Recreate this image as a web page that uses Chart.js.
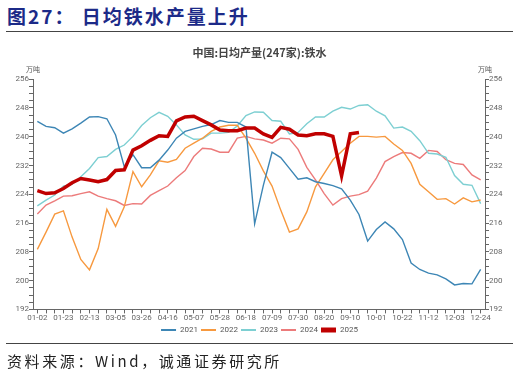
<!DOCTYPE html>
<html>
<head>
<meta charset="utf-8">
<script src="https://cdn.jsdelivr.net/npm/chart.js@4.4.1/dist/chart.umd.min.js"></script>
<style>
  body { margin: 0; width: 519px; height: 374px; background: #fff; position: relative; overflow: hidden; }
  .head { position: absolute; left: 7px; top: 2px; font-family: "Noto Sans CJK SC", sans-serif; font-weight: bold; font-size: 19px; color: #1c2a88; letter-spacing: 2px; white-space: pre; }
  .rule { position: absolute; left: 6px; width: 507px; height: 0; border-top: 1.5px solid #444; }
  .foot { position: absolute; left: 7px; top: 350px; font-family: "Noto Sans CJK SC", serif; font-size: 15px; color: #222; letter-spacing: 2.6px; white-space: pre; }
  .wrap { position: absolute; left: 0; top: 40px; width: 519px; height: 304px; }
</style>
</head>
<body>
<div class="head">图27： 日均铁水产量上升</div>
<div class="rule" style="top:31px"></div>
<div class="wrap"><canvas id="ironChart"></canvas></div>
<div class="rule" style="top:343px"></div>
<div class="foot">资料来源：Wind，诚通证券研究所</div>
<script>
const weeks = [
  '01-02','01-09','01-16','01-23','01-30','02-06','02-13','02-20','02-27','03-05',
  '03-12','03-19','03-26','04-02','04-09','04-16','04-23','04-30','05-07','05-14',
  '05-21','05-28','06-04','06-11','06-18','06-25','07-02','07-09','07-16','07-23',
  '07-30','08-06','08-13','08-20','08-27','09-03','09-10','09-17','09-24','10-01',
  '10-08','10-15','10-22','10-29','11-05','11-12','11-19','11-26','12-03','12-10',
  '12-17','12-24'
];

const y2021 = [
  244.3, 242.9, 242.5, 241.0, 242.2, 243.8, 245.5, 245.6, 245.0, 240.5,
  231.7, 235.0, 231.4, 231.4, 233.5, 236.3, 239.6, 241.5, 242.2, 242.9,
  243.4, 244.5, 244.0, 244.0, 242.7, 215.8, 226.5, 235.7, 234.2, 231.2,
  228.2, 228.6, 227.5, 227.0, 226.4, 225.5, 222.4, 218.4, 211.0, 214.2,
  216.3, 214.4, 211.4, 204.9, 203.1, 202.1, 201.6, 200.5, 198.8, 199.2,
  199.1, 203.1
];
const y2022 = [
  208.7, 213.5, 218.5, 219.4, 212.1, 205.9, 203.0, 208.9, 219.8, 215.1,
  220.5, 230.3, 226.1, 229.4, 233.3, 232.9, 233.7, 236.8, 238.2, 239.6,
  241.5, 242.7, 243.2, 243.2, 239.6, 235.4, 230.5, 226.3, 219.6, 213.5,
  214.4, 219.1, 226.1, 229.8, 233.6, 235.9, 238.2, 240.1, 240.1, 239.9,
  240.1, 238.0, 236.2, 232.6, 226.8, 224.7, 222.6, 222.8, 221.3, 223.0,
  221.9, 222.4
];
const y2023 = [
  220.8, 222.4, 223.8, 226.3, 226.8, 228.9, 231.2, 234.2, 234.5, 236.5,
  237.7, 240.1, 243.1, 245.3, 246.8, 245.7, 243.3, 240.5, 239.3, 239.4,
  241.0, 241.0, 241.2, 243.0, 245.9, 246.9, 246.8, 244.5, 244.3, 240.8,
  241.2, 243.6, 245.5, 245.5, 247.1, 248.2, 247.7, 248.7, 248.9, 247.1,
  245.8, 242.4, 242.7, 241.5, 238.9, 235.4, 235.2, 234.3, 229.2, 226.8,
  226.5, 221.4
];
const y2024 = [
  218.5, 221.0, 222.2, 223.5, 223.6, 224.2, 224.7, 223.5, 222.8, 222.2,
  220.9, 221.4, 221.3, 223.7, 225.0, 226.3, 228.6, 230.6, 234.5, 236.8,
  236.6, 235.7, 235.7, 239.6, 240.1, 239.4, 239.1, 238.2, 239.6, 239.4,
  236.5, 231.5, 228.0, 224.2, 221.0, 222.8, 223.5, 223.9, 224.9, 228.5,
  233.1, 234.5, 235.6, 235.4, 234.0, 236.2, 235.9, 233.6, 232.6, 232.3,
  229.4, 228.0
];
const y2025 = [
  225.0, 224.2, 224.4, 225.6, 227.2, 228.4, 228.0, 227.5, 228.1, 230.6,
  230.8, 236.3, 237.5, 239.0, 240.3, 240.1, 244.4, 245.5, 245.7, 244.5,
  243.3, 241.9, 241.7, 241.7, 242.4, 242.4, 240.8, 239.8, 242.6, 242.1,
  240.5, 240.3, 240.8, 240.8, 240.1, 229.1, 240.8, 241.2
];

const seriesNames = ['2021', '2022', '2023', '2024', '2025'];
const seriesColors = ['#3d86b5', '#f7993f', '#7dcfd2', '#ec7b7b', '#c00000'];
const seriesData = [y2021, y2022, y2023, y2024, y2025];

const yMin = 192, yMax = 256, yLabelStep = 8;

// small unit label above both axes
const unitLabels = {
  id: 'unitLabels',
  afterDraw(chart) {
    const { ctx, chartArea } = chart;
    ctx.save();
    ctx.font = '7px "Noto Sans CJK SC", sans-serif';
    ctx.fillStyle = '#555';
    ctx.textAlign = 'center';
    ctx.textBaseline = 'bottom';
    ctx.fillText('万吨', chartArea.left, chartArea.top - 6);
    ctx.fillText('万吨', chartArea.right, chartArea.top - 6);
    ctx.restore();
  }
};

const yAxis = (position) => ({
  position: position,
  min: yMin,
  max: yMax,
  border: { display: true, color: '#666', width: 1 },
  grid: { drawOnChartArea: false, drawTicks: true, tickLength: 4, color: '#666' },
  ticks: {
    stepSize: 2,
    autoSkip: false,
    padding: 0,
    color: '#666',
    font: { size: 8, family: 'Roboto, sans-serif' },
    callback: (v) => (v % yLabelStep === 0 ? v : '')
  },
  afterFit(scale) { scale.width = position === 'left' ? 33 : 34; }
});

new Chart(document.getElementById('ironChart'), {
  type: 'line',
  data: {
    labels: weeks,
    datasets: seriesNames.map((name, i) => ({
      label: name,
      data: seriesData[i],
      borderColor: seriesColors[i],
      backgroundColor: seriesColors[i],
      borderWidth: name === '2025' ? 3.5 : 1.4,
      pointRadius: 0,
      tension: 0,
      yAxisID: 'y',
      order: name === '2025' ? 0 : 1
    }))
  },
  options: {
    responsive: true,
    maintainAspectRatio: false,
    animation: false,
    layout: { padding: { top: 0, bottom: 0, left: 0, right: 0 } },
    plugins: {
      title: {
        display: true,
        text: '中国:日均产量(247家):铁水',
        color: '#444',
        font: { size: 11, weight: 'bold', family: '"Noto Sans CJK SC", sans-serif' },
        padding: { top: 6, bottom: 20 }
      },
      legend: {
        position: 'bottom',
        labels: {
          usePointStyle: true,
          pointStyle: 'line',
          pointStyleWidth: 15,
          boxHeight: 8,
          padding: 3,
          color: '#555',
          font: { size: 8, family: 'Roboto, sans-serif' },
          generateLabels(chart) {
            const items = Chart.defaults.plugins.legend.labels.generateLabels(chart);
            items.forEach((it) => {
              it.pointStyle = 'line';
              it.lineWidth = it.text === '2025' ? 5 : 2;
            });
            return items.sort((a, b) => a.datasetIndex - b.datasetIndex);
          }
        }
      },
      tooltip: { enabled: false }
    },
    scales: {
      x: {
        offset: true,
        border: { display: true, color: '#666', width: 1 },
        grid: { offset: false, drawOnChartArea: false, drawTicks: true, tickLength: 4, color: '#666' },
        ticks: {
          autoSkip: false,
          maxRotation: 0,
          padding: 0,
          color: '#666',
          font: { size: 8, family: 'Roboto, sans-serif' },
          callback: (v, i) => (i % 3 === 0 ? weeks[i] : '')
        }
      },
      y: yAxis('left'),
      y1: yAxis('right')
    }
  },
  plugins: [unitLabels]
});
</script>
</body>
</html>
